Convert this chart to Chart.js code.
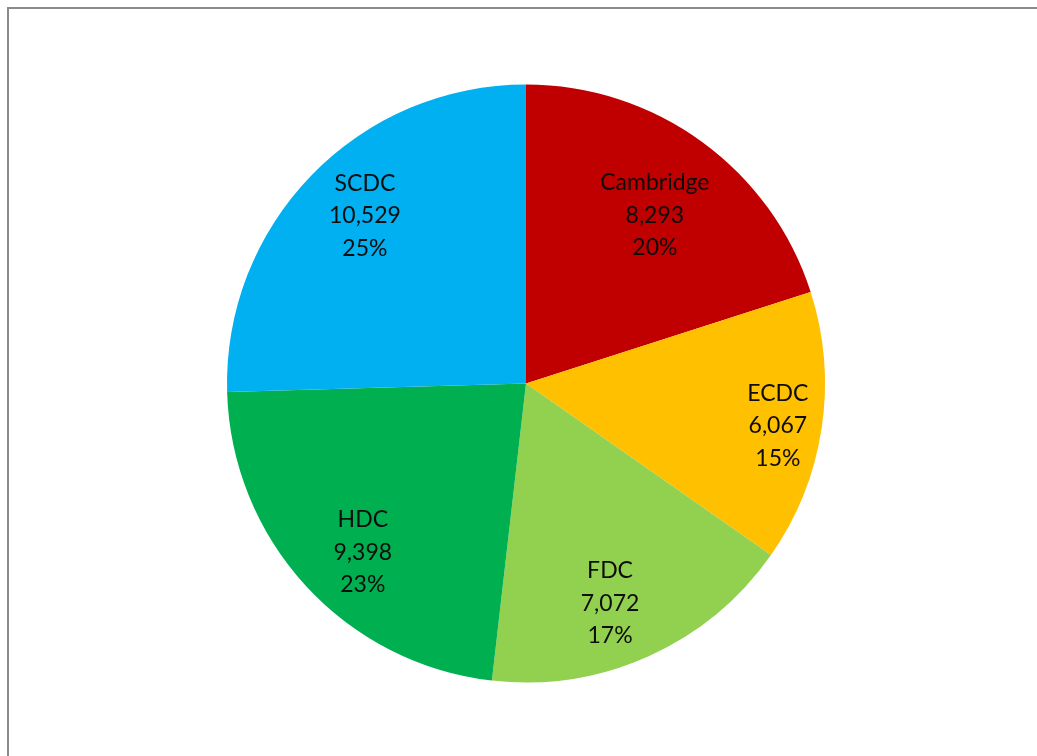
<!DOCTYPE html>
<html>
<head>
<meta charset="utf-8">
<script src="https://cdn.jsdelivr.net/npm/chart.js@4/dist/chart.umd.min.js"></script>
<style>
  html, body { margin: 0; padding: 0; background: #fff; overflow: hidden; }
  #wrap { position: relative; width: 1037px; height: 756px; }
  #frame { position: absolute; left: 7px; top: 7px; width: 1100px; height: 800px;
           border: 2px solid #8a8a8a; box-sizing: border-box; }
  #c { position: absolute; left: 0; top: 0; }
</style>
</head>
<body>
<div id="wrap">
  <div id="frame"></div>
  <canvas id="c" width="1037" height="756"></canvas>
</div>
<script>
// Districts and their counts
const districts = ['Cambridge', 'ECDC', 'FDC', 'HDC', 'SCDC'];
const counts = [8293, 6067, 7072, 9398, 10529];
const sliceColors = ['#C00000', '#FFC000', '#92D050', '#00B050', '#00B0F0'];

// Label block placement: fraction of radius, and a small angular nudge (degrees)
const labelRadius = [0.708, 0.854, 0.787, 0.785, 0.778];
const labelNudge = [1.4, 0.9, 3.3, -3.4, 2.0];

const total = counts.reduce((a, b) => a + b, 0);
const fmt = new Intl.NumberFormat('en-GB');

const sliceLabels = {
  id: 'sliceLabels',
  afterDatasetsDraw(chart) {
    const ctx = chart.ctx;
    const meta = chart.getDatasetMeta(0);
    ctx.save();
    ctx.font = '23px Lato, "Open Sans", sans-serif';
    ctx.fillStyle = '#0d0d0d';
    ctx.textAlign = 'center';
    ctx.textBaseline = 'middle';
    const lineH = 32.5;
    meta.data.forEach((arc, i) => {
      const p = arc.getProps(['x', 'y', 'startAngle', 'endAngle', 'outerRadius'], true);
      const mid = (p.startAngle + p.endAngle) / 2 + labelNudge[i] * Math.PI / 180;
      const r = p.outerRadius * labelRadius[i];
      const cx = p.x + Math.cos(mid) * r;
      const cy = p.y + Math.sin(mid) * r;
      const pct = Math.round(counts[i] / total * 100) + '%';
      const lines = [districts[i], fmt.format(counts[i]), pct];
      lines.forEach((t, k) => ctx.fillText(t, cx, cy + (k - 1) * lineH));
    });
    ctx.restore();
  }
};

new Chart(document.getElementById('c'), {
  type: 'pie',
  data: {
    labels: districts,
    datasets: [{
      data: counts,
      backgroundColor: sliceColors,
      borderWidth: 0
    }]
  },
  options: {
    responsive: false,
    animation: false,
    events: [],
    layout: { padding: { left: 227, right: 212, top: 84, bottom: 73 } },
    plugins: {
      legend: { display: false },
      tooltip: { enabled: false }
    }
  },
  plugins: [sliceLabels]
});
</script>
</body>
</html>
